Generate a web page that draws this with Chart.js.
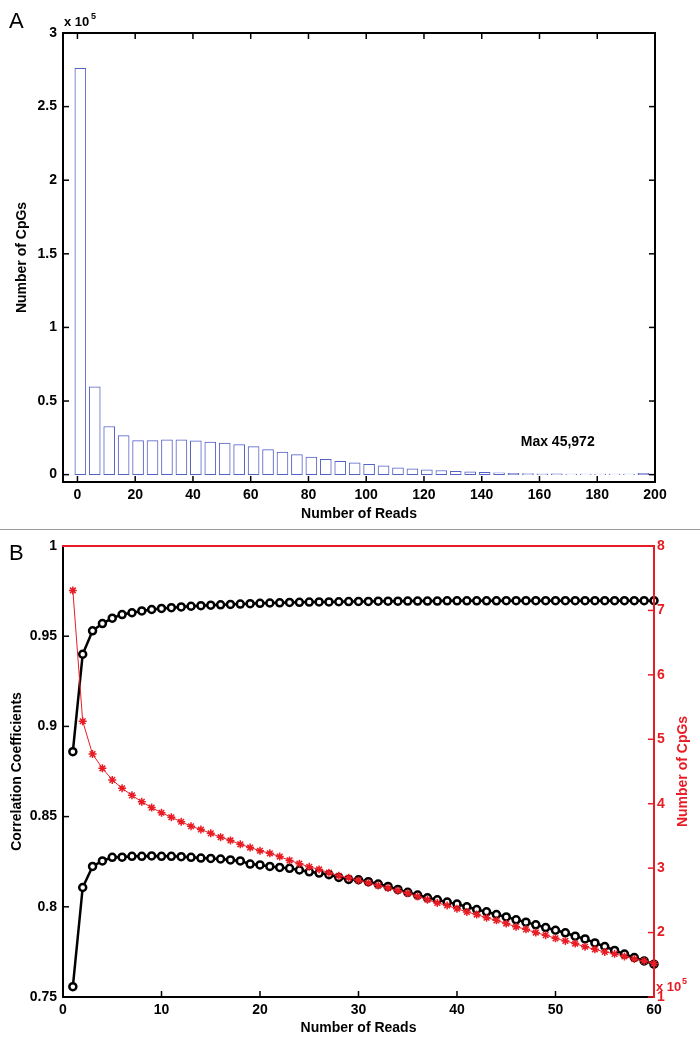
<!DOCTYPE html>
<html>
<head>
<meta charset="utf-8">
<script src="https://cdn.jsdelivr.net/npm/chart.js@4.4.0/dist/chart.umd.min.js"></script>
<style>
  body { margin: 0; background: #fff; }
  #wrap { position: relative; width: 700px; height: 1044px; }
  #chartA { position: absolute; left: 0; top: 0; }
  #sep { position: absolute; left: 0; top: 529px; width: 700px; height: 1px; background: #9a9a9a; }
  #chartB { position: absolute; left: 0; top: 530px; }
</style>
</head>
<body>
<div id="wrap">
  <canvas id="chartA" width="700" height="528"></canvas>
  <div id="sep"></div>
  <canvas id="chartB" width="700" height="514"></canvas>
</div>
<script>
// ---- panel A: histogram of reads per CpG ----
let binCentres = [1, 6, 11, 16, 21, 26, 31, 36, 41, 46, 51, 56, 61, 66, 71, 76, 81, 86, 91, 96,
                  101, 106, 111, 116, 121, 126, 131, 136, 141, 146, 151, 156, 161, 166, 171, 176, 181, 186, 191, 196]
let binCounts = [276000, 59700, 32700, 26500, 23100, 23100, 23600, 23600, 22900, 22200,
                 21500, 20400, 19000, 17000, 15400, 13600, 12000, 10400, 9000, 8000,
                 7000, 5900, 4700, 3900, 3300, 2800, 2300, 1900, 1600, 1300,
                 900, 700, 600, 500, 400, 400, 300, 300, 300, 900]
let xTicksA = [0, 20, 40, 60, 80, 100, 120, 140, 160, 180, 200]
let yTicksA = [0, 50000, 100000, 150000, 200000, 250000, 300000]

// ---- panel B: correlation and CpG count vs reads ----
let reads = [1, 2, 3, 4, 5, 6, 7, 8, 9, 10, 11, 12, 13, 14, 15, 16, 17, 18, 19, 20,
             21, 22, 23, 24, 25, 26, 27, 28, 29, 30, 31, 32, 33, 34, 35, 36, 37, 38, 39, 40,
             41, 42, 43, 44, 45, 46, 47, 48, 49, 50, 51, 52, 53, 54, 55, 56, 57, 58, 59, 60]
let corrHigh = [0.886, 0.940, 0.953, 0.957, 0.960, 0.962, 0.963, 0.964, 0.9648, 0.9654,
                0.9658, 0.9662, 0.9666, 0.9669, 0.9672, 0.9674, 0.9676, 0.9678, 0.968, 0.9682,
                0.9684, 0.9685, 0.9687, 0.9688, 0.9689, 0.969, 0.969, 0.9691, 0.9692, 0.9693,
                0.9693, 0.9694, 0.9694, 0.9694, 0.9695, 0.9695, 0.9695, 0.9695, 0.9696, 0.9696,
                0.9696, 0.9696, 0.9696, 0.9696, 0.9697, 0.9697, 0.9697, 0.9697, 0.9697, 0.9697,
                0.9697, 0.9697, 0.9697, 0.9697, 0.9697, 0.9697, 0.9697, 0.9697, 0.9697, 0.9697]
let corrLow = [0.7557, 0.8107, 0.8224, 0.8254, 0.8274, 0.8275, 0.828, 0.828, 0.8282, 0.828,
               0.828, 0.8278, 0.8274, 0.827, 0.8268, 0.8265, 0.826, 0.8254, 0.8237, 0.8232,
               0.8224, 0.8218, 0.8213, 0.8204, 0.8194, 0.8187, 0.8178, 0.8163, 0.8152, 0.815,
               0.8139, 0.8126, 0.8113, 0.8096, 0.808, 0.8065, 0.805, 0.8039, 0.8026, 0.8015,
               0.80, 0.7985, 0.7972, 0.7957, 0.7944, 0.7928, 0.7915, 0.79, 0.7885, 0.787,
               0.7856, 0.7837, 0.7822, 0.7800, 0.7780, 0.7758, 0.7738, 0.7719, 0.77, 0.7682]
let cpgCount = [731000, 528000, 477000, 455000, 437000, 424000, 413000, 403000, 394000, 386000,
                379000, 372000, 365000, 360000, 354000, 348000, 343000, 337000, 332000, 327000,
                323000, 318000, 312000, 307000, 302000, 298000, 293000, 288000, 285000, 281000,
                277000, 273000, 269000, 265000, 261000, 256000, 251000, 246000, 242000, 237000,
                232000, 228000, 223000, 219000, 214000, 209000, 205000, 200000, 196000, 191000,
                187000, 183000, 178000, 174000, 170000, 167000, 163000, 159000, 156000, 152000]
let xTicksB = [0, 10, 20, 30, 40, 50, 60]
let yTicksB = [0.75, 0.8, 0.85, 0.9, 0.95, 1]
let y1TicksB = [100000, 200000, 300000, 400000, 500000, 600000, 700000, 800000]

const FONT = 'Liberation Sans, Arial, Helvetica, sans-serif'
const RED = 'rgb(232, 28, 36)'
const tickFont = { family: FONT, size: 14, weight: 'bold' }
const titleFont = { family: FONT, size: 14, weight: 'bold' }

const setTicks = (vals) => (scale) => { scale.ticks = vals.map(v => ({ value: v })) }

const line = (ctx, x1, y1, x2, y2) => {
    ctx.beginPath()
    ctx.moveTo(x1, y1)
    ctx.lineTo(x2, y2)
    ctx.stroke()
}

// box, inward ticks and extra labels for panel A
const frameA = {
    id: 'frameA',
    afterDatasetsDraw(chart) {
        const { ctx, chartArea: { left, right, top, bottom }, scales: { x, y } } = chart
        ctx.save()
        ctx.strokeStyle = '#000'
        ctx.lineWidth = 2
        ctx.strokeRect(left, top, right - left, bottom - top)
        ctx.lineWidth = 1.5
        x.ticks.forEach(t => {
            const px = x.getPixelForValue(t.value)
            line(ctx, px, bottom, px, bottom - 6)
            line(ctx, px, top, px, top + 6)
        })
        y.ticks.forEach(t => {
            const py = y.getPixelForValue(t.value)
            line(ctx, left, py, left + 6, py)
            line(ctx, right, py, right - 6, py)
        })
        ctx.fillStyle = '#000'
        ctx.textBaseline = 'alphabetic'
        ctx.textAlign = 'left'
        ctx.font = '22px ' + FONT
        ctx.fillText('A', 9, 28)
        ctx.font = 'bold 13px ' + FONT
        ctx.fillText('x 10', 64, 26)
        ctx.font = 'bold 9px ' + FONT
        ctx.fillText('5', 91, 19)
        ctx.font = 'bold 14px ' + FONT
        ctx.textBaseline = 'middle'
        ctx.fillText('Max 45,972', x.getPixelForValue(153.5), y.getPixelForValue(21800))
        ctx.restore()
    }
}

// axes for panel B (left black, right red)
const frameB = {
    id: 'frameB',
    afterDatasetsDraw(chart) {
        const { ctx, chartArea: { left, right, top, bottom }, scales: { x, y, y1 } } = chart
        ctx.save()
        ctx.lineWidth = 2
        ctx.strokeStyle = '#000'
        line(ctx, left, top - 1, left, bottom + 1)
        line(ctx, left - 1, bottom, right, bottom)
        ctx.lineWidth = 1.5
        x.ticks.forEach(t => {
            const px = x.getPixelForValue(t.value)
            line(ctx, px, bottom, px, bottom - 6)
        })
        y.ticks.forEach(t => {
            const py = y.getPixelForValue(t.value)
            line(ctx, left, py, left + 6, py)
        })
        ctx.strokeStyle = RED
        ctx.lineWidth = 2
        line(ctx, left - 1, top, right + 1, top)
        line(ctx, right, top, right, bottom + 1)
        ctx.lineWidth = 1.5
        y1.ticks.forEach(t => {
            const py = y1.getPixelForValue(t.value)
            line(ctx, right, py, right - 6, py)
        })
        ctx.fillStyle = '#000'
        ctx.textAlign = 'left'
        ctx.textBaseline = 'alphabetic'
        ctx.font = '22px ' + FONT
        ctx.fillText('B', 9, 30)
        ctx.fillStyle = RED
        ctx.font = 'bold 13px ' + FONT
        ctx.fillText('x 10', 656, 461)
        ctx.font = 'bold 9px ' + FONT
        ctx.fillText('5', 682, 454)
        ctx.translate(683, (top + bottom) / 2)
        ctx.rotate(-Math.PI / 2)
        ctx.textAlign = 'center'
        ctx.textBaseline = 'middle'
        ctx.font = 'bold 14px ' + FONT
        ctx.fillText('Number of CpGs', 0, 0)
        ctx.restore()
    }
}

const plainScale = {
    grid: { display: false, drawTicks: false },
    border: { display: false }
}

new Chart(document.getElementById('chartA'), {
    type: 'bar',
    data: {
        datasets: [{
            data: binCentres.map((c, i) => ({ x: c, y: binCounts[i] })),
            backgroundColor: '#ffffff',
            borderColor: '#5661c6',
            borderWidth: 1,
            borderSkipped: false,
            barThickness: 11
        }]
    },
    options: {
        responsive: false,
        animation: false,
        layout: { padding: { left: 0, top: 33, right: 45, bottom: 0 } },
        plugins: { legend: { display: false }, tooltip: { enabled: false } },
        scales: {
            x: {
                ...plainScale,
                type: 'linear',
                offset: false,
                min: -5,
                max: 200,
                afterFit: s => { s.height = 46 },
                afterBuildTicks: setTicks(xTicksA),
                ticks: { font: tickFont, color: '#000', padding: 5, maxRotation: 0, autoSkip: false },
                title: { display: true, text: 'Number of Reads', font: titleFont, color: '#000', padding: { top: 0, bottom: 5 } }
            },
            y: {
                ...plainScale,
                min: -5000,
                max: 300000,
                afterFit: s => { s.width = 63 },
                afterBuildTicks: setTicks(yTicksA),
                ticks: { font: tickFont, color: '#000', padding: 6, callback: v => String(v / 100000) },
                title: { display: true, text: 'Number of CpGs', font: titleFont, color: '#000', padding: { top: 14, bottom: 0 } }
            }
        }
    },
    plugins: [frameA]
})

new Chart(document.getElementById('chartB'), {
    type: 'line',
    data: {
        datasets: [{
            data: reads.map((r, i) => ({ x: r, y: cpgCount[i] })),
            yAxisID: 'y1',
            borderColor: RED,
            borderWidth: 1,
            pointStyle: 'star',
            pointRadius: 4,
            pointBorderColor: RED,
            pointBorderWidth: 1.5,
            clip: false
        }, {
            data: reads.map((r, i) => ({ x: r, y: corrHigh[i] })),
            yAxisID: 'y',
            borderColor: '#000',
            borderWidth: 2.5,
            pointStyle: 'circle',
            pointRadius: 3.5,
            pointBackgroundColor: '#fff',
            pointBorderColor: '#000',
            pointBorderWidth: 2.5,
            clip: false
        }, {
            data: reads.map((r, i) => ({ x: r, y: corrLow[i] })),
            yAxisID: 'y',
            borderColor: '#000',
            borderWidth: 2.5,
            pointStyle: 'circle',
            pointRadius: 3.5,
            pointBackgroundColor: '#fff',
            pointBorderColor: '#000',
            pointBorderWidth: 2.5,
            clip: false
        }]
    },
    options: {
        responsive: false,
        animation: false,
        layout: { padding: { left: 0, top: 16, right: 0, bottom: 0 } },
        plugins: { legend: { display: false }, tooltip: { enabled: false } },
        scales: {
            x: {
                ...plainScale,
                type: 'linear',
                min: 0,
                max: 60,
                afterFit: s => { s.height = 47 },
                afterBuildTicks: setTicks(xTicksB),
                ticks: { font: tickFont, color: '#000', padding: 5, maxRotation: 0, autoSkip: false },
                title: { display: true, text: 'Number of Reads', font: titleFont, color: '#000', padding: { top: 0, bottom: 7 } }
            },
            y: {
                ...plainScale,
                min: 0.75,
                max: 1,
                afterFit: s => { s.width = 63 },
                afterBuildTicks: setTicks(yTicksB),
                ticks: { font: tickFont, color: '#000', padding: 6, callback: v => String(v) },
                title: { display: true, text: 'Correlation Coefficients', font: titleFont, color: '#000', padding: { top: 9, bottom: 0 } }
            },
            y1: {
                ...plainScale,
                position: 'right',
                min: 100000,
                max: 800000,
                afterFit: s => { s.width = 46 },
                afterBuildTicks: setTicks(y1TicksB),
                ticks: { font: tickFont, color: RED, padding: 3, callback: v => String(v / 100000) }
            }
        }
    },
    plugins: [frameB]
})
</script>
</body>
</html>
